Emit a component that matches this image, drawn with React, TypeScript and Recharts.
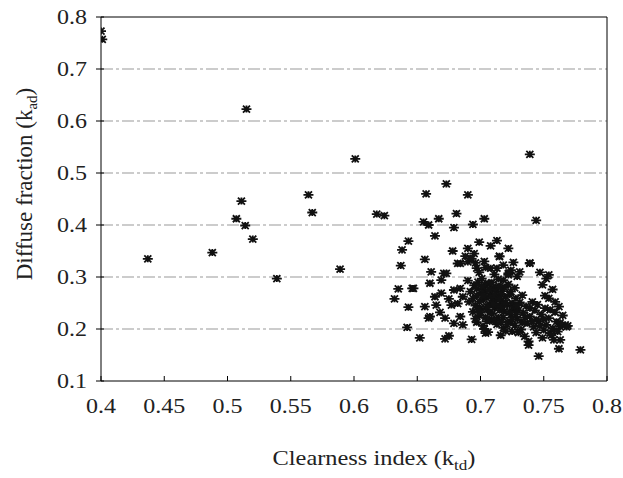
import React from 'react';
import {
  ScatterChart, Scatter, XAxis, YAxis, CartesianGrid, ReferenceLine, Label
} from 'recharts';

// isolated points (clearness index, diffuse fraction)
const outliers: [number, number][] = [
  [0.4, 0.773], [0.401, 0.757], [0.437, 0.335], [0.488, 0.347], [0.511, 0.446],
  [0.507, 0.412], [0.514, 0.399], [0.52, 0.373], [0.515, 0.623], [0.539, 0.297],
  [0.564, 0.458], [0.567, 0.424], [0.589, 0.315], [0.601, 0.527], [0.618, 0.421],
  [0.624, 0.418], [0.739, 0.536], [0.673, 0.479], [0.657, 0.46], [0.69, 0.458],
  [0.681, 0.422], [0.667, 0.412], [0.655, 0.406], [0.659, 0.4], [0.703, 0.412],
  [0.694, 0.401], [0.744, 0.409], [0.679, 0.395], [0.664, 0.379], [0.643, 0.369],
  [0.638, 0.352], [0.637, 0.322], [0.656, 0.334], [0.678, 0.35], [0.69, 0.355],
  [0.699, 0.367], [0.713, 0.37], [0.708, 0.36], [0.722, 0.355], [0.715, 0.34],
  [0.692, 0.336], [0.682, 0.326], [0.739, 0.327],
];

// points around the left side of the cloud
const leftGroup: [number, number][] = [
  [0.632, 0.258], [0.635, 0.277], [0.646, 0.278], [0.643, 0.242], [0.656, 0.243],
  [0.659, 0.221], [0.642, 0.203], [0.652, 0.183], [0.672, 0.181], [0.675, 0.187],
  [0.693, 0.18], [0.704, 0.192], [0.661, 0.31], [0.671, 0.307], [0.66, 0.288],
  [0.669, 0.294], [0.684, 0.278], [0.679, 0.275], [0.669, 0.269], [0.647, 0.278],
  [0.665, 0.246], [0.677, 0.246], [0.682, 0.249], [0.66, 0.224], [0.672, 0.221],
  [0.684, 0.224], [0.679, 0.211], [0.686, 0.208], [0.684, 0.326], [0.673, 0.307],
  [0.664, 0.262], [0.675, 0.258], [0.686, 0.262], [0.668, 0.232],
];

// dense cloud
const cluster: [number, number][] = [
  [0.688, 0.34], [0.695, 0.345], [0.69, 0.329], [0.697, 0.317], [0.708, 0.317],
  [0.693, 0.335], [0.696, 0.327], [0.703, 0.33], [0.718, 0.323], [0.726, 0.328],
  [0.715, 0.339], [0.739, 0.326], [0.731, 0.31], [0.752, 0.297], [0.713, 0.317],
  [0.722, 0.304], [0.754, 0.259], [0.755, 0.237], [0.76, 0.214],
  [0.768, 0.204], [0.738, 0.176], [0.763, 0.179], [0.75, 0.198], [0.738, 0.169],
  [0.746, 0.148], [0.762, 0.162], [0.779, 0.16], [0.767, 0.208], [0.758, 0.179],
  [0.755, 0.192], [0.763, 0.204], [0.754, 0.304], [0.722, 0.307],
  [0.699, 0.309], [0.704, 0.318], [0.711, 0.305], [0.724, 0.313], [0.729, 0.301],
  [0.747, 0.309], [0.749, 0.285], [0.757, 0.276], [0.751, 0.264], [0.759, 0.252],
  [0.69, 0.293], [0.695, 0.284], [0.701, 0.297], [0.706, 0.288], [0.712, 0.281],
  [0.718, 0.294], [0.722, 0.286], [0.727, 0.279], [0.714, 0.296], [0.698, 0.29],
  [0.692, 0.272], [0.697, 0.264], [0.703, 0.276], [0.708, 0.268], [0.713, 0.261],
  [0.717, 0.273], [0.723, 0.266], [0.728, 0.259], [0.71, 0.278], [0.701, 0.27],
  [0.691, 0.252], [0.696, 0.245], [0.702, 0.256], [0.707, 0.248], [0.711, 0.241],
  [0.716, 0.253], [0.721, 0.246], [0.726, 0.238], [0.731, 0.251], [0.736, 0.244],
  [0.741, 0.252], [0.745, 0.247], [0.751, 0.24], [0.762, 0.243], [0.694, 0.259],
  [0.694, 0.233], [0.699, 0.226], [0.705, 0.237], [0.709, 0.229], [0.714, 0.222],
  [0.719, 0.234], [0.724, 0.227], [0.729, 0.219], [0.734, 0.231], [0.739, 0.224],
  [0.743, 0.236], [0.748, 0.228], [0.754, 0.221], [0.759, 0.232], [0.765, 0.226],
  [0.697, 0.213], [0.702, 0.206], [0.708, 0.217], [0.713, 0.209], [0.718, 0.202],
  [0.723, 0.214], [0.727, 0.207], [0.732, 0.199], [0.737, 0.211], [0.742, 0.204],
  [0.746, 0.215], [0.752, 0.208], [0.757, 0.201], [0.763, 0.212], [0.769, 0.206],
  [0.706, 0.194], [0.716, 0.188], [0.725, 0.195], [0.735, 0.186], [0.744, 0.193],
  [0.749, 0.183], [0.756, 0.188], [0.761, 0.195], [0.73, 0.193], [0.72, 0.196],
  [0.7, 0.24], [0.71, 0.255], [0.715, 0.236], [0.72, 0.262], [0.725, 0.25],
  [0.73, 0.236], [0.728, 0.228], [0.718, 0.222], [0.739, 0.24], [0.733, 0.265],
  [0.706, 0.262], [0.712, 0.273], [0.744, 0.218], [0.733, 0.212], [0.721, 0.209],
  [0.704, 0.284], [0.716, 0.266], [0.699, 0.252], [0.708, 0.232], [0.696, 0.22],
  [0.719, 0.28], [0.705, 0.215], [0.713, 0.245], [0.703, 0.2], [0.725, 0.218],
  [0.698, 0.238], [0.702, 0.264], [0.707, 0.276], [0.711, 0.265], [0.715, 0.258],
  [0.71, 0.248], [0.705, 0.243], [0.717, 0.243], [0.72, 0.251], [0.723, 0.233],
  [0.711, 0.216], [0.716, 0.213], [0.704, 0.223], [0.7, 0.232], [0.727, 0.243],
  [0.697, 0.277], [0.709, 0.289], [0.715, 0.282], [0.701, 0.283], [0.724, 0.272],
  [0.729, 0.245], [0.735, 0.222], [0.741, 0.215], [0.747, 0.206], [0.75, 0.219],
];

const xTicks = [0.4, 0.45, 0.5, 0.55, 0.6, 0.65, 0.7, 0.75, 0.8];
const yTicks = [0.1, 0.2, 0.3, 0.4, 0.5, 0.6, 0.7, 0.8];
const gridLines = [0.2, 0.3, 0.4, 0.5, 0.6, 0.7];

const points = [...outliers, ...leftGroup, ...cluster].map(([k, d]) => ({ k, d }));

const FONT = '"Liberation Serif", "Times New Roman", serif';

// asterisk marker
const Star = (p: any) => {
  const { cx, cy } = p;
  if (cx == null || cy == null) return null;
  return (
    <path
      d={`M${cx - 5},${cy} h10 M${cx - 3.5},${cy - 3.5} l7,7 M${cx - 3.5},${cy + 3.5} l7,-7 M${cx},${cy - 3.5} v7`}
      stroke="#111"
      strokeWidth={1.8}
      fill="none"
    />
  );
};

const XTick = ({ x, y, payload }: any) => (
  <g>
    <line x1={x} x2={x} y1={y} y2={y - 5} stroke="#000" />
    <text transform={`translate(${x},${y + 32}) scale(1.2,1)`} textAnchor="middle"
      fontSize={20} fontFamily={FONT} fill="#222">{payload.value}</text>
  </g>
);

const YTick = ({ x, y, payload }: any) => (
  <g>
    <line x1={x - 5} x2={x + 3} y1={y} y2={y} stroke="#000" />
    <text transform={`translate(${x - 14},${y + 7}) scale(1.2,1)`} textAnchor="end"
      fontSize={20} fontFamily={FONT} fill="#222">{payload.value}</text>
  </g>
);

const XTitle = () => (
  <text transform="translate(374,465) scale(1.22,1)" textAnchor="middle"
    fontSize={20} fontFamily={FONT} fill="#222">
    Clearness index (k<tspan fontSize={14} dy={5}>td</tspan><tspan dy={-5}>)</tspan>
  </text>
);

const YTitle = () => (
  <text transform="translate(32,184) rotate(-90)" textAnchor="middle"
    fontSize={23} fontFamily={FONT} fill="#222">
    Diffuse fraction (k<tspan fontSize={15} dy={5}>ad</tspan><tspan dy={-5}>)</tspan>
  </text>
);

export default function App() {
  return (
    <div style={{ position: 'absolute', left: 0, top: 0, background: '#fff' }}>
      <ScatterChart width={623} height={478} margin={{ top: 17, right: 16, bottom: 0, left: 0 }}>
        <CartesianGrid vertical={false} horizontalValues={gridLines}
          stroke="#999" strokeDasharray="12 3 3 3" />
        <XAxis type="number" dataKey="k" domain={[0.4, 0.8]} ticks={xTicks}
          height={97} tickSize={0} tickMargin={0} tick={<XTick />}
          axisLine={{ stroke: '#000' }} allowDataOverflow>
          <Label content={<XTitle />} />
        </XAxis>
        <YAxis type="number" dataKey="d" domain={[0.1, 0.8]} ticks={yTicks}
          width={101} tickSize={0} tickMargin={0} tick={<YTick />}
          axisLine={{ stroke: '#000' }} allowDataOverflow>
          <Label content={<YTitle />} />
        </YAxis>
        <ReferenceLine y={0.8} stroke="#000" />
        <ReferenceLine x={0.8} stroke="#000" />
        <Scatter data={points} shape={<Star />} isAnimationActive={false} />
      </ScatterChart>
    </div>
  );
}
